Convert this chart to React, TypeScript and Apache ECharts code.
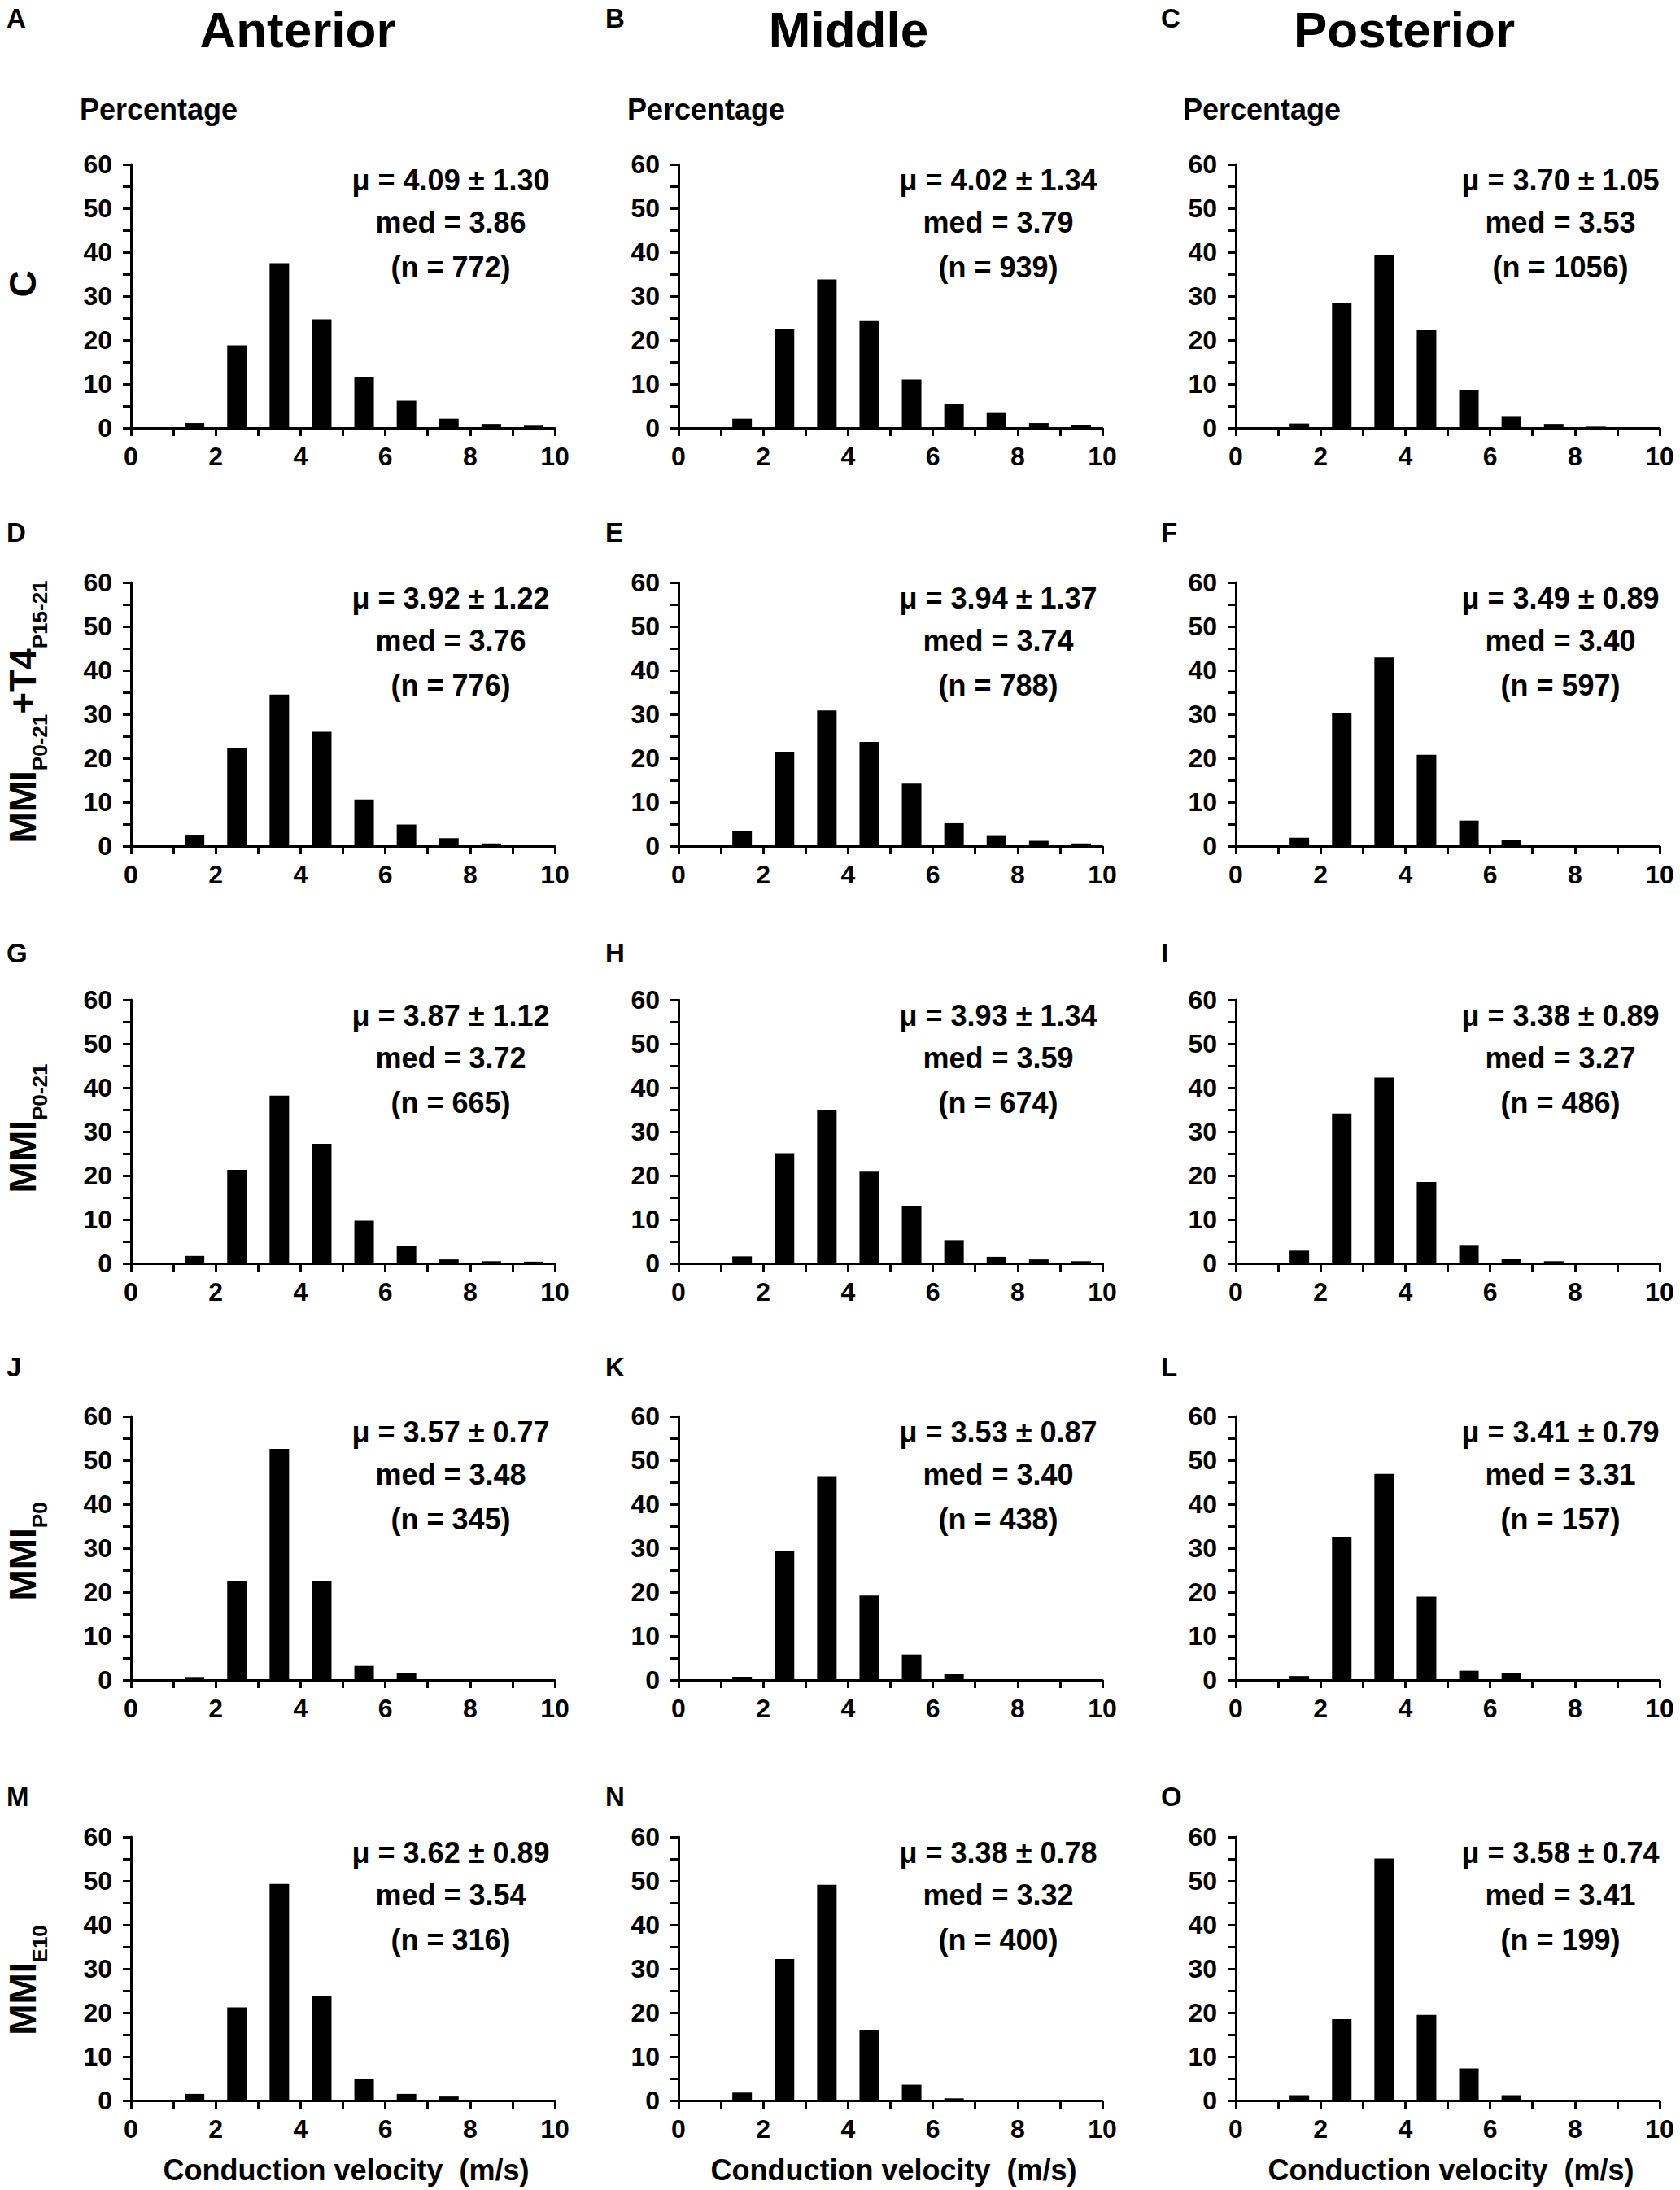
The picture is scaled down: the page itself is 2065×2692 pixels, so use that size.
import React, { useEffect, useRef } from "react";
import * as echarts from "echarts";

// ---------- data ----------
const binCenters = [0.5, 1.5, 2.5, 3.5, 4.5, 5.5, 6.5, 7.5, 8.5, 9.5];

const pctA = [0, 1.1, 18.8, 37.5, 24.7, 11.6, 6.2, 2.1, 0.9, 0.5];
const pctB = [0, 2.1, 22.6, 33.8, 24.5, 11.0, 5.5, 3.4, 1.1, 0.6];
const pctC = [0, 1.0, 28.4, 39.4, 22.2, 8.6, 2.7, 0.9, 0.3, 0];
const pctD = [0, 2.4, 22.3, 34.5, 26.0, 10.6, 4.9, 1.8, 0.6, 0];
const pctE = [0, 3.5, 21.5, 30.9, 23.7, 14.2, 5.2, 2.3, 1.2, 0.6];
const pctF = [0, 1.9, 30.3, 42.9, 20.8, 5.8, 1.3, 0, 0, 0];
const pctG = [0, 1.7, 21.3, 38.2, 27.2, 9.7, 3.9, 0.9, 0.5, 0.4];
const pctH = [0, 1.6, 25.1, 34.9, 20.9, 13.1, 5.3, 1.5, 0.9, 0.5];
const pctI = [0, 2.9, 34.1, 42.3, 18.5, 4.2, 1.1, 0.5, 0, 0];
const pctJ = [0, 0.5, 22.6, 52.6, 22.6, 3.2, 1.5, 0, 0, 0];
const pctK = [0, 0.6, 29.4, 46.4, 19.2, 5.8, 1.3, 0, 0, 0];
const pctL = [0, 0.9, 32.6, 46.9, 19.0, 2.1, 1.5, 0, 0, 0];
const pctM = [0, 1.5, 21.2, 49.3, 23.8, 5.0, 1.5, 0.9, 0, 0];
const pctN = [0, 1.8, 32.2, 49.1, 16.1, 3.6, 0.5, 0, 0, 0];
const pctO = [0, 1.2, 18.5, 55.1, 19.5, 7.3, 1.2, 0, 0, 0];

const panelValues = [
  pctA, pctB, pctC,
  pctD, pctE, pctF,
  pctG, pctH, pctI,
  pctJ, pctK, pctL,
  pctM, pctN, pctO,
];

const panelLetters = ["A", "B", "C", "D", "E", "F", "G", "H", "I", "J", "K", "L", "M", "N", "O"];

const meanSd = [
  "4.09 ± 1.30", "4.02 ± 1.34", "3.70 ± 1.05",
  "3.92 ± 1.22", "3.94 ± 1.37", "3.49 ± 0.89",
  "3.87 ± 1.12", "3.93 ± 1.34", "3.38 ± 0.89",
  "3.57 ± 0.77", "3.53 ± 0.87", "3.41 ± 0.79",
  "3.62 ± 0.89", "3.38 ± 0.78", "3.58 ± 0.74",
];
const medians = [
  "3.86", "3.79", "3.53",
  "3.76", "3.74", "3.40",
  "3.72", "3.59", "3.27",
  "3.48", "3.40", "3.31",
  "3.54", "3.32", "3.41",
];
const counts = [
  "772", "939", "1056",
  "776", "788", "597",
  "665", "674", "486",
  "345", "438", "157",
  "316", "400", "199",
];

const columnTitles = ["Anterior", "Middle", "Posterior"];
const rowLabels = [
  "{m|C}",
  "{m|MMI}{s|P0-21}{m|+T4}{s|P15-21}",
  "{m|MMI}{s|P0-21}",
  "{m|MMI}{s|P0}",
  "{m|MMI}{s|E10}",
];
const yAxisName = "Percentage";
const xAxisName = "Conduction velocity  (m/s)";

// ---------- layout ----------
const W = 2065;
const H = 2692;
const FONT = '"Liberation Sans", Arial, Helvetica, sans-serif';
const colLeft = [161, 834, 1519];
const rowTop = [202, 716, 1229, 1741, 2258];
const plotW = 521;
const plotH = 324;
const annotX = [554, 1227, 1918];
const annotDy = [19, 71, 126];
const letterX = [8, 744, 1427];
const letterY = [22, 654, 1171, 1680, 2208];
const titleX = [366, 1043, 1726];
const pctLabelX = [98, 771, 1454];
const rowLabelY = [349, 875, 1387, 1907, 2434];

function txt(x: number, y: number, text: string, size: number, align: string, vAlign: string = "middle") {
  return {
    type: "text",
    x,
    y,
    silent: true,
    style: {
      text,
      fill: "#000",
      fontSize: size,
      fontWeight: "bold",
      fontFamily: FONT,
      align,
      textAlign: align,
      verticalAlign: vAlign,
      textVerticalAlign: vAlign,
    },
  };
}

function buildOption() {
  const grid: any[] = [];
  const xAxis: any[] = [];
  const yAxis: any[] = [];
  const series: any[] = [];
  const graphic: any[] = [];

  const axisCommon = {
    axisLine: { show: true, onZero: false, lineStyle: { color: "#000", width: 3 } },
    axisTick: { show: true, inside: false, length: 10, lineStyle: { color: "#000", width: 3 } },
    minorTick: { show: true, splitNumber: 2, length: 10, lineStyle: { color: "#000", width: 3 } },
    splitLine: { show: false },
    minorSplitLine: { show: false },
  };
  const labelCommon = {
    color: "#000",
    fontSize: 32,
    fontWeight: "bold",
    fontFamily: FONT,
  };

  for (let i = 0; i < 15; i++) {
    const r = Math.floor(i / 3);
    const c = i % 3;
    grid.push({ left: colLeft[c], top: rowTop[r], width: plotW, height: plotH, containLabel: false });
    xAxis.push({
      type: "value",
      gridIndex: i,
      min: 0,
      max: 10,
      interval: 2,
      ...axisCommon,
      axisLabel: { ...labelCommon, margin: 19 },
    });
    yAxis.push({
      type: "value",
      gridIndex: i,
      min: 0,
      max: 60,
      interval: 10,
      ...axisCommon,
      axisLabel: { ...labelCommon, margin: 23 },
    });
    series.push({
      type: "bar",
      xAxisIndex: i,
      yAxisIndex: i,
      barWidth: 24,
      itemStyle: { color: "#000" },
      data: binCenters.map((b, k) => [b, panelValues[i][k]]),
    });

    // panel letter
    graphic.push(txt(letterX[c], letterY[r], panelLetters[i], 33, "left"));
    // annotation
    const ax = annotX[c];
    graphic.push(txt(ax, rowTop[r] + annotDy[0], "μ = " + meanSd[i], 36, "center"));
    graphic.push(txt(ax, rowTop[r] + annotDy[1], "med = " + medians[i], 36, "center"));
    graphic.push(txt(ax, rowTop[r] + annotDy[2], "(n = " + counts[i] + ")", 36, "center"));
  }

  // column titles, y names, x names
  for (let c = 0; c < 3; c++) {
    graphic.push(txt(titleX[c], 36, columnTitles[c], 62, "center"));
    graphic.push(txt(pctLabelX[c], 134, yAxisName, 36, "left"));
    graphic.push(txt(colLeft[c] + plotW / 2 + 4, 2667, xAxisName, 36, "center"));
  }

  // row labels (rotated)
  for (let r = 0; r < 5; r++) {
    const hasSub = r > 0;
    graphic.push({
      type: "text",
      x: hasSub ? 33.5 : 28,
      y: rowLabelY[r],
      rotation: Math.PI / 2,
      silent: true,
      style: {
        text: rowLabels[r],
        fill: "#000",
        fontSize: 46,
        fontWeight: "bold",
        fontFamily: FONT,
        align: "center",
        textAlign: "center",
        verticalAlign: "middle",
        textVerticalAlign: "middle",
        rich: {
          m: { fontSize: 46, fontWeight: "bold", fontFamily: FONT, fill: "#000", verticalAlign: "top" },
          s: {
            fontSize: 26,
            fontWeight: "bold",
            fontFamily: FONT,
            fill: "#000",
            verticalAlign: "top",
            padding: [31, 0, 0, 0],
          },
        },
      },
    });
  }

  return {
    animation: false,
    backgroundColor: "#fff",
    grid,
    xAxis,
    yAxis,
    series,
    graphic: { elements: graphic },
  };
}

export default function App() {
  const ref = useRef<HTMLDivElement>(null);
  useEffect(() => {
    if (!ref.current) return;
    const chart = echarts.init(ref.current, undefined, { renderer: "svg", width: W, height: H });
    chart.setOption(buildOption() as any);
    return () => chart.dispose();
  }, []);
  return (
    <div
      ref={ref}
      style={{ position: "absolute", left: 0, top: 0, width: W, height: H, background: "#fff" }}
    />
  );
}
